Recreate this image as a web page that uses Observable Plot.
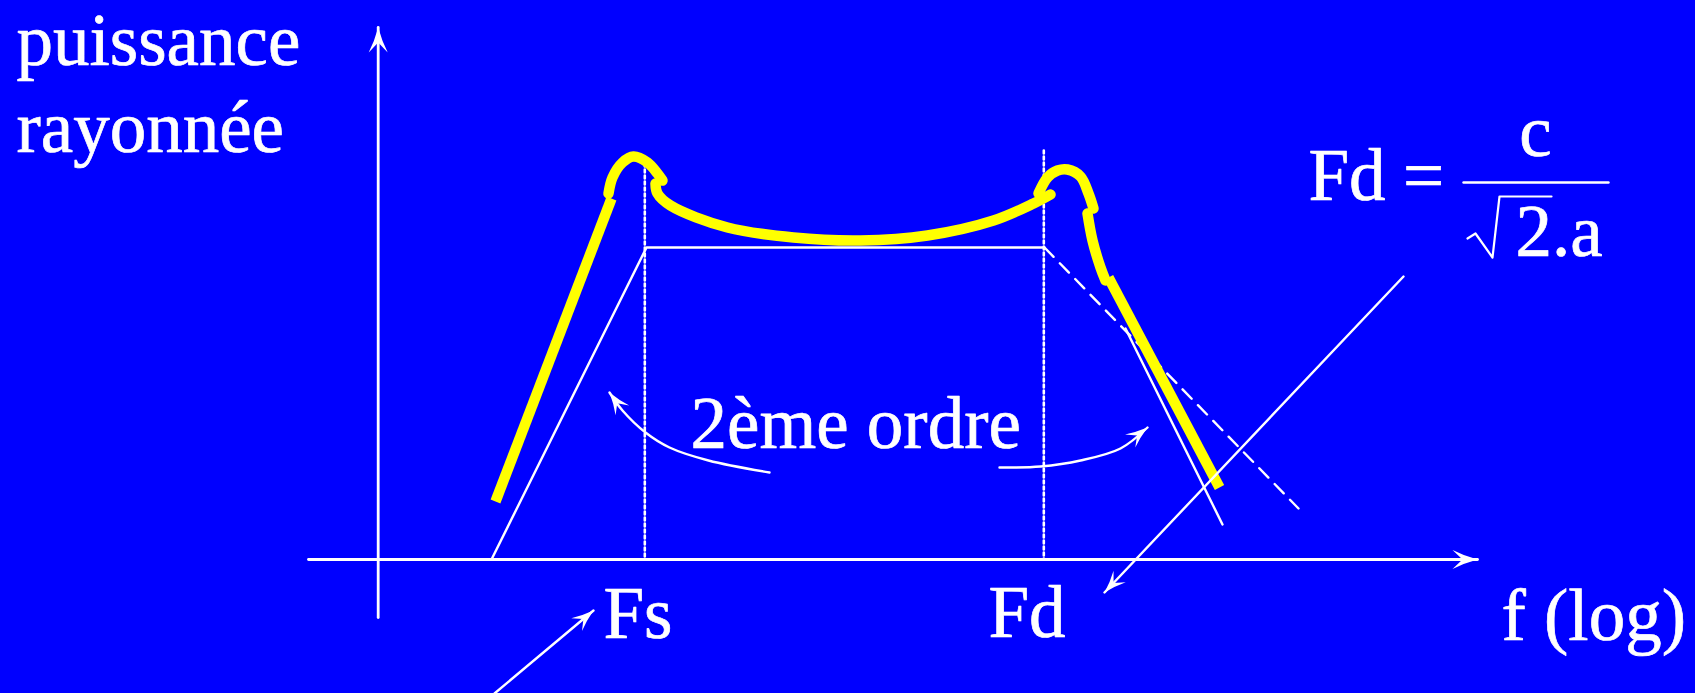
<!DOCTYPE html>
<html><head><meta charset="utf-8">
<script src="https://cdn.jsdelivr.net/npm/d3@7"></script>
<script src="https://cdn.jsdelivr.net/npm/@observablehq/plot@0.6"></script>
<style>html,body{margin:0;padding:0;background:#0000ff;overflow:hidden}</style>
</head><body><div id="chart"></div>
<script>
// Diagram units: x = position along the log-frequency axis, y = level (measured downward).
const axisY = [[377.7, 617], [377.7, 27]];
const axisX = [[308, 559], [1477, 559]];

// white asymptotes (2nd order)
const asymptote = [[491, 559], [646, 247], [1044, 247]];
const asymptoteDashed = [[1044, 247], [1298, 508]];
const asymptoteSteep = [[1125, 328], [1222, 524]];
const markFs = [[644.3, 163], [644.3, 559]];
const markFd = [[1043.3, 150], [1043.3, 559]];

// yellow radiated power response
const yellowRise = [[495, 501], [611, 198]];
const yellowPeakLeft = [[608, 193], [612, 177], [622, 162], [633, 156], [647, 162], [657, 173], [662, 180]];
const yellowDip = [[655, 183], [657, 193], [670, 205], [727, 227], [793, 237], [860, 240], [927, 235], [993, 220], [1033, 203], [1050, 194]];
const yellowPeakRight = [[1038, 193], [1047, 177], [1057, 170], [1067, 169], [1080, 176], [1088, 193], [1093, 208]];
const yellowShoulder = [[1087, 213], [1092, 240], [1100, 267], [1105, 280]];
const yellowFall = [[1108, 277], [1219, 487]];

// annotation arrows
const arrowOrderLeft = [[769, 472], [708, 460], [669, 447], [645, 432], [622, 410], [609, 392]];
const arrowOrderRight = [[999, 467], [1040, 466], [1080, 460], [1120, 448], [1147, 427]];
const arrowFd = [[1403, 276], [1104, 592]];
const arrowFs = [[494, 693], [593, 610]];

// formula Fd = c / (√2.a)
const fractionBar = [[1463, 182], [1608, 182]];
const radical = [[1467, 238], [1475, 233], [1492, 257], [1499, 196], [1551, 196]];

// texts
const labelsStart = [
  {x: 16, y: 64, t: "puissance"},
  {x: 16, y: 151, t: "rayonnée"},
  {x: 603, y: 637, t: "Fs"},
  {x: 988, y: 636, t: "Fd"},
  {x: 1501, y: 639, t: "f (log)"},
  {x: 1308, y: 199, t: "Fd"},
  {x: 1515, y: 255, t: "2.a"},
  {x: 690, y: 447, t: "2ème ordre"}
];
const labelsMiddle = [
  {x: 1423, y: 199, t: "="},
  {x: 1535, y: 155, t: "c"}
];

const FONT = "'Liberation Serif','Times New Roman',Times,serif";
const X = d => d[0], Y = d => d[1];

function head(pts) {
  const [a, b] = pts.slice(-2);
  const ang = Math.atan2(b[0] - a[0], -(b[1] - a[1])) * 180 / Math.PI;
  return {x: b[0], y: b[1], angle: ang};
}
const headsBig = [head(axisY), head(axisX)];
const headsSmall = [head(arrowOrderLeft), head(arrowOrderRight), head(arrowFd), head(arrowFs)];

const stealth = {
  draw(ctx, size) {
    const L = Math.sqrt(size / Math.PI);
    ctx.moveTo(0, 0);
    ctx.quadraticCurveTo(-0.15 * L, 0.55 * L, -0.38 * L, L);
    ctx.lineTo(0, 0.6 * L);
    ctx.lineTo(0.38 * L, L);
    ctx.quadraticCurveTo(0.15 * L, 0.55 * L, 0, 0);
    ctx.closePath();
  }
};

const thin = (pts, o = {}) => Plot.line(pts, {x: X, y: Y, stroke: "white", strokeWidth: 2.4, ...o});
const yellow = (pts, o = {}) => Plot.line(pts, {x: X, y: Y, stroke: "#ffff00", strokeWidth: 10.5, strokeLinejoin: "round", ...o});
const txt = {x: "x", y: "y", text: "t", lineAnchor: "bottom", fill: "white", stroke: "white", strokeWidth: 0.7, fontSize: 73, fontFamily: FONT};

const chart = Plot.plot({
  width: 1695,
  height: 693,
  margin: 0,
  style: {background: "#0000ff", overflow: "visible"},
  x: {domain: [0, 1695], range: [0, 1695], axis: null},
  y: {domain: [0, 693], range: [0, 693], axis: null},
  marks: [
    thin(axisX, {strokeWidth: 2.8}),
    thin(axisY, {strokeWidth: 2.8}),
    thin(markFs, {strokeWidth: 2.6, strokeDasharray: "3,3"}),
    thin(markFd, {strokeWidth: 2.6, strokeDasharray: "3,3"}),
    thin(asymptote),
    thin(asymptoteDashed, {strokeDasharray: "13,9"}),
    thin(asymptoteSteep),
    yellow(yellowRise, {strokeLinecap: "butt"}),
    yellow(yellowPeakLeft, {curve: "catmull-rom", strokeLinecap: "round"}),
    yellow(yellowDip, {curve: "catmull-rom", strokeLinecap: "round"}),
    yellow(yellowPeakRight, {curve: "catmull-rom", strokeLinecap: "round"}),
    yellow(yellowShoulder, {curve: "catmull-rom", strokeLinecap: "round"}),
    yellow(yellowFall, {strokeLinecap: "butt"}),
    thin(arrowOrderLeft, {curve: "catmull-rom"}),
    thin(arrowOrderRight, {curve: "catmull-rom"}),
    thin(arrowFd),
    thin(arrowFs),
    thin(fractionBar),
    thin(radical, {strokeWidth: 2.2}),
    Plot.dot(headsBig, {x: "x", y: "y", rotate: "angle", r: 25, symbol: stealth, fill: "white", stroke: "none"}),
    Plot.dot(headsSmall, {x: "x", y: "y", rotate: "angle", r: 22, symbol: stealth, fill: "white", stroke: "none"}),
    Plot.text(labelsStart, {...txt, textAnchor: "start"}),
    Plot.text(labelsMiddle, {...txt, textAnchor: "middle"})
  ]
});
document.getElementById("chart").appendChild(chart);
</script>
</body></html>
